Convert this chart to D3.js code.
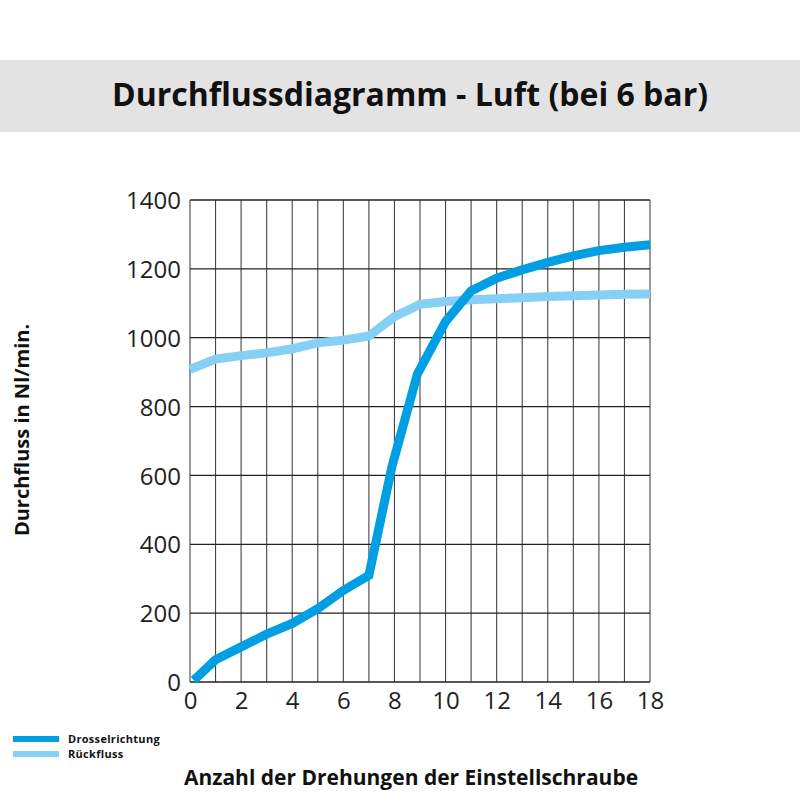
<!DOCTYPE html>
<html>
<head>
<meta charset="utf-8">
<script src="https://cdn.jsdelivr.net/npm/d3@7"></script>
<style>
  body { margin: 0; background: #fff; }
  svg { display: block; font-family: "Open Sans", sans-serif; }
</style>
</head>
<body>
<svg id="chart" width="800" height="800"></svg>
<script>
// values
const turns = [0, 1, 2, 3, 4, 5, 6, 7, 8, 9, 10, 11, 12, 13, 14, 15, 16, 17, 18];
const drossel = [[0.15, 5], [1, 65], [2, 102], [3, 139], [4, 170], [5, 213], [6, 266], [7, 310],
                 [7.9, 625], [8.9, 895], [10, 1047], [11, 1136], [12, 1173], [13, 1197],
                 [14, 1219], [15, 1238], [16, 1253], [17, 1263], [18, 1270]];
const rueck = [[0, 908], [1, 938], [2, 948], [3, 956], [4, 968], [5, 985], [6, 993], [7, 1005],
               [8, 1061], [9, 1097], [10, 1105], [11, 1110], [12, 1113], [13, 1116],
               [14, 1120], [15, 1122], [16, 1124], [17, 1126], [18, 1127]];
const yTicks = [0, 200, 400, 600, 800, 1000, 1200, 1400];
const xTicks = [0, 2, 4, 6, 8, 10, 12, 14, 16, 18];
const seriesNames = ["Drosselrichtung", "Rückfluss"];
const seriesColors = ["#009fe3", "#86d0f5"];

const svg = d3.select("#chart");
const margin = {top: 200, right: 150, bottom: 118, left: 190};
const width = 800 - margin.left - margin.right;
const height = 800 - margin.top - margin.bottom;

// title band
svg.append("rect").attr("x", 0).attr("y", 60).attr("width", 800).attr("height", 72).attr("fill", "#e3e3e3");
svg.append("text").attr("x", 410).attr("y", 106).attr("text-anchor", "middle")
    .attr("font-size", 32).attr("font-weight", "bold").attr("fill", "#111")
    .text("Durchflussdiagramm - Luft (bei 6 bar)");

const g = svg.append("g").attr("transform", `translate(${margin.left},${margin.top})`);

const x = d3.scaleLinear().domain([0, 18]).range([0, width]);
const y = d3.scaleLinear().domain([0, 1400]).range([height, 0]);

// grid
g.append("g").selectAll("line").data(turns).enter().append("line")
    .attr("x1", d => x(d)).attr("x2", d => x(d)).attr("y1", 0).attr("y2", height)
    .attr("stroke", "#444").attr("stroke-width", 1.1);
g.append("g").selectAll("line").data(yTicks).enter().append("line")
    .attr("x1", 0).attr("x2", width).attr("y1", d => y(d)).attr("y2", d => y(d))
    .attr("stroke", "#222").attr("stroke-width", 1.3);

// axes (labels only)
const yAxis = g.append("g").call(d3.axisLeft(y).tickValues(yTicks).tickFormat(d3.format("d")).tickSize(0).tickPadding(9));
const xAxis = g.append("g").attr("transform", `translate(0,${height})`)
    .call(d3.axisBottom(x).tickValues(xTicks).tickSize(0).tickPadding(10));
[yAxis, xAxis].forEach(a => {
    a.select(".domain").remove();
    a.selectAll("text").attr("font-size", 24).attr("fill", "#222").attr("font-family", "Open Sans, sans-serif");
});
yAxis.selectAll("text").attr("dy", "0.36em");

// lines
const line = d3.line().x(d => x(d[0])).y(d => y(d[1]));
g.append("path").datum(rueck).attr("d", line).attr("fill", "none")
    .attr("stroke", seriesColors[1]).attr("stroke-width", 9).attr("stroke-linejoin", "miter");
g.append("path").datum(drossel).attr("d", line).attr("fill", "none")
    .attr("stroke", seriesColors[0]).attr("stroke-width", 9).attr("stroke-linejoin", "miter");

// axis titles
svg.append("text").attr("transform", "translate(29,430) rotate(-90)").attr("text-anchor", "middle")
    .attr("font-size", 20).attr("font-weight", "bold").attr("fill", "#111")
    .text("Durchfluss in Nl/min.");
svg.append("text").attr("x", 411).attr("y", 785).attr("text-anchor", "middle")
    .attr("font-size", 21).attr("font-weight", "bold").attr("fill", "#111")
    .text("Anzahl der Drehungen der Einstellschraube");

// legend
const leg = svg.append("g").selectAll("g").data(seriesNames).enter().append("g")
    .attr("transform", (d, i) => `translate(13,${739 + i * 15})`);
leg.append("line").attr("x1", 0).attr("x2", 46).attr("y1", 0).attr("y2", 0)
    .attr("stroke", (d, i) => seriesColors[i]).attr("stroke-width", 6);
leg.append("text").attr("x", 55).attr("y", 4).attr("font-size", 11).attr("font-weight", "bold")
    .attr("letter-spacing", 0.3).attr("fill", "#111").text(d => d);
</script>
</body>
</html>
